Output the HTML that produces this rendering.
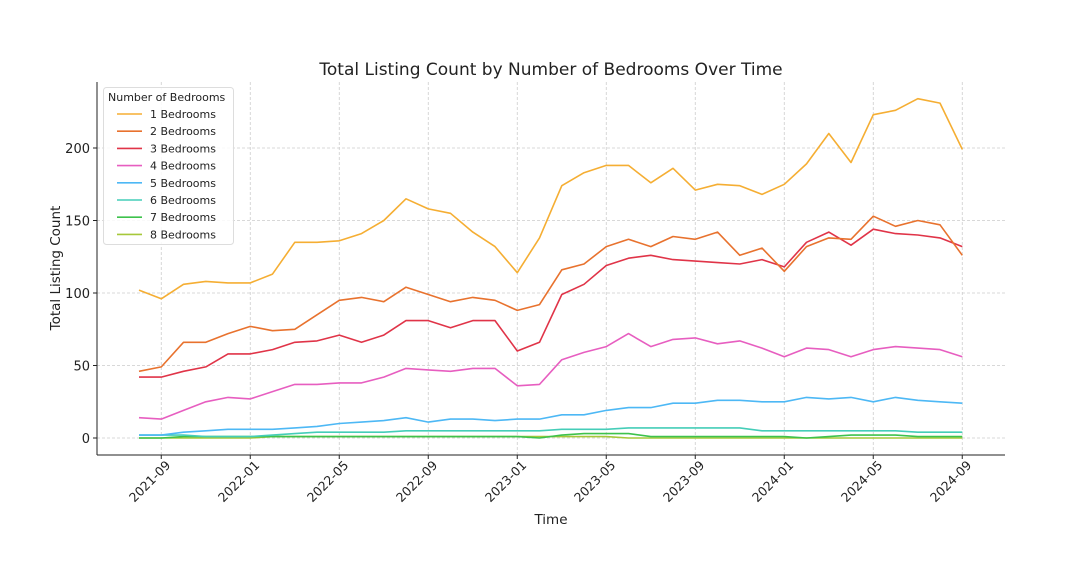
<!DOCTYPE html>
<html><head><meta charset="utf-8"><style>
body{margin:0;background:#fff;}
svg text{font-family:"DejaVu Sans","Liberation Sans",sans-serif;fill:#222;}
</style></head><body>
<svg id="s" width="1088" height="568" xmlns="http://www.w3.org/2000/svg">
<rect width="1088" height="568" fill="#fff"/>
<g id="grid"></g>
<g id="lines"></g>
<line x1="97" y1="82" x2="97" y2="455" stroke="#222" stroke-width="1"/>
<line x1="97" y1="455" x2="1005" y2="455" stroke="#222" stroke-width="1"/>
<text x="551" y="75" font-size="17" text-anchor="middle">Total Listing Count by Number of Bedrooms Over Time</text>
<text x="551" y="524" font-size="13.5" text-anchor="middle">Time</text>
<text transform="translate(60,268) rotate(-90)" font-size="13.5" text-anchor="middle">Total Listing Count</text>
<g id="legend"></g>
</svg>
<script>
var NS="http://www.w3.org/2000/svg",s=document.getElementById('s');
function el(p,t,a,txt){var e=document.createElementNS(NS,t);for(var k in a)e.setAttribute(k,a[k]);if(txt!=null)e.textContent=txt;p.appendChild(e);return e;}
var g=document.getElementById('grid'),L=document.getElementById('lines'),lg=document.getElementById('legend');
function Y(v){return 438-v*1.45;}
function X(i){return 139+22.25*i;}
[0,50,100,150,200].forEach(function(v){var y=Y(v);
el(g,'line',{x1:97,x2:1005,y1:y,y2:y,stroke:'#ccc','stroke-dasharray':'3,2','stroke-width':0.8});
el(g,'line',{x1:93,x2:97,y1:y,y2:y,stroke:'#222'});
el(g,'text',{x:90,y:y+5,'font-size':13,'text-anchor':'end'},String(v));});
var labs=['2021-09','2022-01','2022-05','2022-09','2023-01','2023-05','2023-09','2024-01','2024-05','2024-09'];
labs.forEach(function(l,k){var x=X(1+4*k);
el(g,'line',{x1:x,x2:x,y1:82,y2:455,stroke:'#ccc','stroke-dasharray':'3,2','stroke-width':0.8});
el(g,'line',{x1:x,x2:x,y1:455,y2:459,stroke:'#222'});
el(g,'text',{transform:'translate('+(x+10)+',466) rotate(-45)','font-size':12.5,'text-anchor':'end'},l);});
var D=[
[102,96,106,108,107,107,113,135,135,136,141,150,165,158,155,142,132,114,138,174,183,188,188,176,186,171,175,174,168,175,189,210,190,223,226,234,231,199],
[46,49,66,66,72,77,74,75,85,95,97,94,104,99,94,97,95,88,92,116,120,132,137,132,139,137,142,126,131,115,132,138,137,153,146,150,147,126],
[42,42,46,49,58,58,61,66,67,71,66,71,81,81,76,81,81,60,66,99,106,119,124,126,123,122,121,120,123,118,135,142,133,144,141,140,138,132],
[14,13,19,25,28,27,32,37,37,38,38,42,48,47,46,48,48,36,37,54,59,63,72,63,68,69,65,67,62,56,62,61,56,61,63,62,61,56],
[2,2,4,5,6,6,6,7,8,10,11,12,14,11,13,13,12,13,13,16,16,19,21,21,24,24,26,26,25,25,28,27,28,25,28,26,25,24],
[2,2,2,1,1,1,2,3,4,4,4,4,5,5,5,5,5,5,5,6,6,6,7,7,7,7,7,7,5,5,5,5,5,5,5,4,4,4],
[0,0,1,1,1,1,1,1,1,1,1,1,1,1,1,1,1,1,0,2,3,3,3,1,1,1,1,1,1,1,0,1,2,2,2,1,1,1],
[0,0,0,0,0,0,1,1,1,1,1,1,1,1,1,1,1,1,1,1,1,1,0,0,0,0,0,0,0,0,0,0,0,0,0,0,0,0]];
var C=['#f5ae33','#e8722e','#e03448','#e75ec0','#4db8f5','#45cdb8','#3ec24c','#a6c83a'];
for(var j=7;j>=0;j--){var p=D[j].map(function(v,i){return X(i).toFixed(1)+','+Y(v).toFixed(1);}).join(' ');
el(L,'polyline',{points:p,fill:'none',stroke:C[j],'stroke-width':1.6,'stroke-linejoin':'round'});}
el(lg,'rect',{x:103.5,y:87.5,width:130,height:157,rx:3,fill:'#fff','fill-opacity':0.85,stroke:'#ddd'});
el(lg,'text',{x:108,y:101,'font-size':11},'Number of Bedrooms');
for(var j=0;j<8;j++){var y=114+17.2*j;
el(lg,'line',{x1:117,x2:142,y1:y,y2:y,stroke:C[j],'stroke-width':1.6});
el(lg,'text',{x:150,y:y+4,'font-size':11},(j+1)+' Bedrooms');}
</script>
</body></html>
